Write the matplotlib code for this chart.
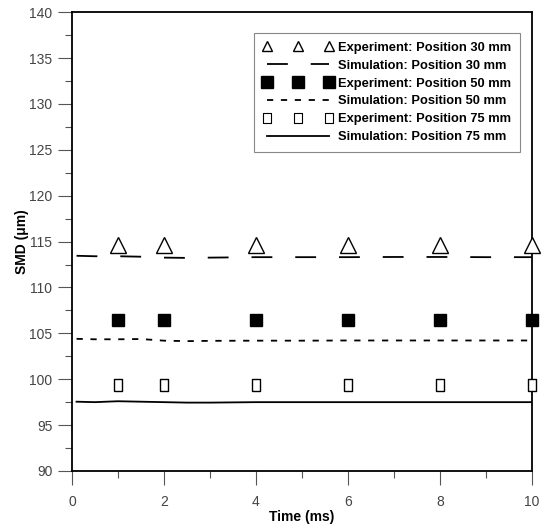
import matplotlib
matplotlib.use("Agg")
import matplotlib.pyplot as plt
from matplotlib.lines import Line2D
from matplotlib.ticker import MultipleLocator

plt.rcParams['font.family'] = ['Liberation Sans', 'DejaVu Sans']
plt.rcParams['lines.scale_dashes'] = False

# experiment points
t_exp = [1, 2, 4, 6, 8, 10]
exp_30 = [114.6, 114.6, 114.6, 114.6, 114.6, 114.6]
exp_50 = [106.4, 106.4, 106.4, 106.4, 106.4, 106.4]
exp_75 = [99.4, 99.4, 99.4, 99.4, 99.4, 99.4]

# simulation curves
t_sim = [0.1, 0.5, 1.0, 1.5, 2.0, 2.5, 3.0, 4.0, 5.0, 6.0, 7.0, 8.0, 9.0, 10.0]
sim_30 = [113.45, 113.4, 113.4, 113.35, 113.25, 113.22, 113.25, 113.3, 113.3, 113.3, 113.32, 113.32, 113.3, 113.3]
sim_50 = [104.4, 104.35, 104.35, 104.38, 104.2, 104.15, 104.18, 104.2, 104.2, 104.22, 104.22, 104.22, 104.22, 104.22]
sim_75 = [97.55, 97.5, 97.6, 97.55, 97.5, 97.45, 97.45, 97.5, 97.5, 97.5, 97.5, 97.5, 97.5, 97.5]

rect = [(-0.4, -0.5), (0.4, -0.5), (0.4, 0.5), (-0.4, 0.5), (-0.4, -0.5)]

fig = plt.figure(figsize=(5.45, 5.28), dpi=100)
ax = fig.add_axes([0.132, 0.108, 0.844, 0.869])

ax.plot(t_exp, exp_30, ls='none', marker='^', ms=12, mfc='white', mec='black', mew=1, clip_on=False, zorder=5)
ax.plot(t_sim, sim_30, color='black', lw=1.3, dashes=(15, 16.5))
ax.plot(t_exp, exp_50, ls='none', marker='s', ms=8, mfc='black', mec='black', clip_on=False, zorder=5)
ax.plot(t_sim, sim_50, color='black', lw=1.3, dashes=(4.5, 5.5))
ax.plot(t_exp, exp_75, ls='none', marker=rect, ms=8, mfc='white', mec='black', mew=1, clip_on=False, zorder=5)
ax.plot(t_sim, sim_75, color='black', lw=1.3)

ax.set_xlim(0, 10)
ax.set_ylim(90, 140)
ax.xaxis.set_major_locator(MultipleLocator(2))
ax.xaxis.set_minor_locator(MultipleLocator(1))
ax.yaxis.set_major_locator(MultipleLocator(5))
ax.yaxis.set_minor_locator(MultipleLocator(2.5))
ax.tick_params(which='major', direction='out', length=10, width=0.8, color='#555555',
               labelsize=10, labelcolor='#444444')
ax.tick_params(axis='x', which='major', pad=7)
ax.tick_params(axis='y', which='major', pad=4)
ax.tick_params(which='minor', direction='out', length=5, width=0.8, color='#555555')
for s in ax.spines.values():
    s.set_linewidth(1.3)

ax.set_xlabel('Time (ms)', fontsize=10, fontweight='bold', labelpad=1)
ax.set_ylabel('SMD (μm)', fontsize=10, fontweight='bold', labelpad=0)

handles = [
    Line2D([], [], ls='none', marker='^', ms=7, mfc='white', mec='black', mew=1),
    Line2D([], [], color='black', lw=1.3, dashes=(15, 16.5)),
    Line2D([], [], ls='none', marker='s', ms=8, mfc='black', mec='black'),
    Line2D([], [], color='black', lw=1.3, dashes=(4.5, 5.5)),
    Line2D([], [], ls='none', marker=rect, ms=7, mfc='white', mec='black', mew=0.8),
    Line2D([], [], color='black', lw=1.3),
]
labels = ['Experiment: Position 30 mm', 'Simulation: Position 30 mm',
          'Experiment: Position 50 mm', 'Simulation: Position 50 mm',
          'Experiment: Position 75 mm', 'Simulation: Position 75 mm']
leg = ax.legend(handles, labels, loc='upper right', bbox_to_anchor=(0.975, 0.955),
                numpoints=3, handlelength=5.4, handletextpad=0.45, labelspacing=0.45,
                borderpad=0.7, borderaxespad=0, fancybox=False, edgecolor='#888888', framealpha=1,
                prop={'size': 9.3, 'weight': 'bold'})
leg.get_frame().set_linewidth(0.8)

plt.savefig('out.png', dpi=100)
